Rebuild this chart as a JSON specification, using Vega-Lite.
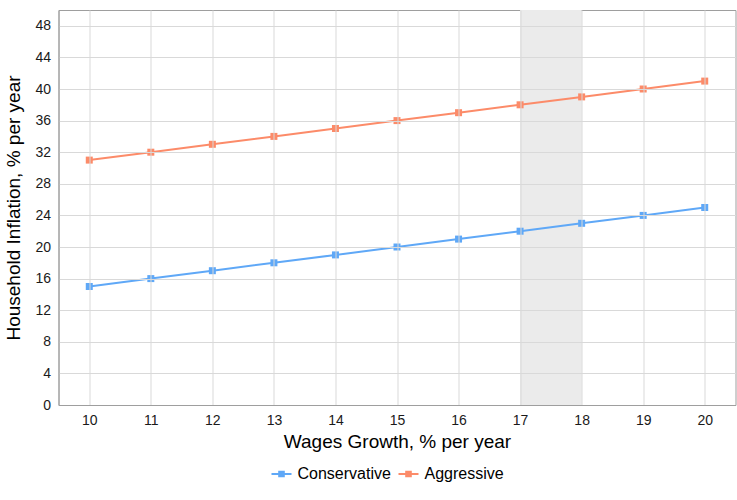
{
  "$schema": "https://vega.github.io/schema/vega-lite/v6.json",
  "width": 677,
  "height": 395,
  "autosize": "none",
  "padding": {"left": 58.5, "top": 10, "right": 1.5, "bottom": 95},
  "background": "white",
  "config": {
    "font": "Liberation Sans",
    "view": {"stroke": "#9e9e9e", "strokeWidth": 1},
    "axis": {
      "gridColor": "#d9d9d9",
      "domainColor": "#9e9e9e",
      "ticks": false,
      "labelFontSize": 14,
      "labelColor": "#1a1a1a",
      "titleFontSize": 19,
      "titleFontWeight": "normal",
      "titleColor": "#000000"
    }
  },
  "datasets": {
    "lines": [
      {"wages": 10, "inflation": 15, "series": "Conservative"},
      {"wages": 11, "inflation": 16, "series": "Conservative"},
      {"wages": 12, "inflation": 17, "series": "Conservative"},
      {"wages": 13, "inflation": 18, "series": "Conservative"},
      {"wages": 14, "inflation": 19, "series": "Conservative"},
      {"wages": 15, "inflation": 20, "series": "Conservative"},
      {"wages": 16, "inflation": 21, "series": "Conservative"},
      {"wages": 17, "inflation": 22, "series": "Conservative"},
      {"wages": 18, "inflation": 23, "series": "Conservative"},
      {"wages": 19, "inflation": 24, "series": "Conservative"},
      {"wages": 20, "inflation": 25, "series": "Conservative"},
      {"wages": 10, "inflation": 31, "series": "Aggressive"},
      {"wages": 11, "inflation": 32, "series": "Aggressive"},
      {"wages": 12, "inflation": 33, "series": "Aggressive"},
      {"wages": 13, "inflation": 34, "series": "Aggressive"},
      {"wages": 14, "inflation": 35, "series": "Aggressive"},
      {"wages": 15, "inflation": 36, "series": "Aggressive"},
      {"wages": 16, "inflation": 37, "series": "Aggressive"},
      {"wages": 17, "inflation": 38, "series": "Aggressive"},
      {"wages": 18, "inflation": 39, "series": "Aggressive"},
      {"wages": 19, "inflation": 40, "series": "Aggressive"},
      {"wages": 20, "inflation": 41, "series": "Aggressive"}
    ],
    "band": [{"start": 17, "end": 18, "low": 0, "high": 50}]
  },
  "layer": [
    {
      "data": {"name": "band"},
      "mark": {"type": "rect", "color": "#ebebeb"},
      "encoding": {
        "x": {
          "field": "start", "type": "quantitative",
          "scale": {"domain": [9.5, 20.5], "nice": false, "zero": false},
          "axis": {"values": [10, 11, 12, 13, 14, 15, 16, 17, 18, 19, 20], "format": "d", "title": "Wages Growth, % per year", "labelPadding": 8, "titlePadding": 5, "zindex": 1}
        },
        "x2": {"field": "end"},
        "y": {
          "field": "low", "type": "quantitative",
          "scale": {"domain": [0, 50], "nice": false},
          "axis": {"values": [0, 4, 8, 12, 16, 20, 24, 28, 32, 36, 40, 44, 48], "labelOverlap": false, "title": "Household Inflation, % per year", "labelPadding": 8, "titlePadding": 11, "zindex": 1}
        },
        "y2": {"field": "high"}
      }
    },
    {
      "data": {"name": "lines"},
      "encoding": {
        "x": {
          "field": "wages", "type": "quantitative",
          "scale": {"domain": [9.5, 20.5], "nice": false, "zero": false},
          "axis": {"values": [10, 11, 12, 13, 14, 15, 16, 17, 18, 19, 20], "format": "d", "title": "Wages Growth, % per year", "labelPadding": 8, "titlePadding": 5, "zindex": 1}
        },
        "y": {
          "field": "inflation", "type": "quantitative",
          "scale": {"domain": [0, 50], "nice": false},
          "axis": {"values": [0, 4, 8, 12, 16, 20, 24, 28, 32, 36, 40, 44, 48], "labelOverlap": false, "title": "Household Inflation, % per year", "labelPadding": 8, "titlePadding": 11, "zindex": 1}
        },
        "color": {
          "field": "series", "type": "nominal",
          "scale": {"domain": ["Conservative", "Aggressive"], "range": ["#5fa8f7", "#fc8b69"]},
          "legend": {
            "orient": "none",
            "direction": "horizontal",
            "legendX": 213,
            "legendY": 454,
            "title": null,
            "labelFontSize": 16,
            "labelColor": "#000000",
            "symbolType": "M-1,-0.1H1V0.1H-1Z M-0.33,-0.33H0.33V0.33H-0.33Z",
            "symbolSize": 400,
            "symbolStrokeWidth": 0,
            "symbolOpacity": 1,
            "columnPadding": 7,
            "labelOffset": 6
          }
        }
      },
      "layer": [
        {"mark": {"type": "line", "strokeWidth": 2}},
        {"mark": {"type": "point", "shape": "square", "filled": true, "size": 49, "opacity": 1}}
      ]
    }
  ]
}
